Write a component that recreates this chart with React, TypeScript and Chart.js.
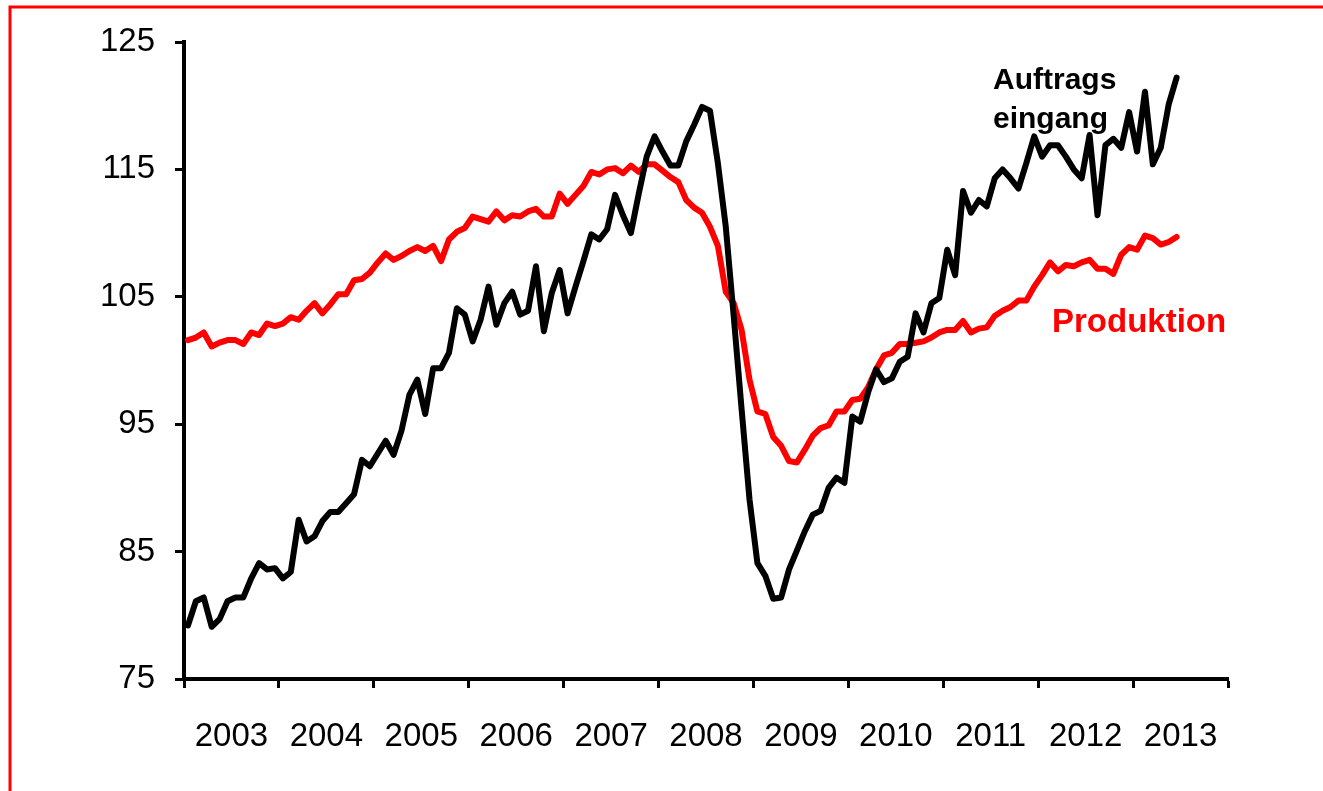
import React, { useEffect, useRef } from 'react';
import { Chart, registerables } from 'chart.js';

Chart.register(...registerables);

// Year labels (category intervals along x; each year = 12 months)
const years = ['2003', '2004', '2005', '2006', '2007', '2008', '2009', '2010', '2011', '2012', '2013'];

// y-axis tick values
const yTicks = [75, 85, 95, 105, 115, 125];

// Monthly values, Jan 2003 .. Jun 2013
const auftragseingang = [
  79.2, 81.1, 81.4, 79.1, 79.7, 81.1, 81.4, 81.4, 82.9, 84.1,
  83.6, 83.7, 82.9, 83.4, 87.5, 85.8, 86.2, 87.4, 88.1, 88.1,
  88.8, 89.5, 92.2, 91.7, 92.7, 93.7, 92.6, 94.5, 97.3, 98.5,
  95.8, 99.4, 99.4, 100.6, 104.1, 103.6, 101.5, 103.2, 105.8, 102.8,
  104.5, 105.4, 103.6, 103.9, 107.4, 102.3, 105.3, 107.1, 103.7, 105.8,
  107.8, 109.9, 109.5, 110.3, 113.0, 111.4, 110.0, 113.1, 116.0, 117.6,
  116.4, 115.3, 115.3, 117.2, 118.5, 119.9, 119.6, 115.5, 110.5, 103.5,
  96.2, 89.1, 84.1, 83.1, 81.3, 81.4, 83.6, 85.1, 86.6, 87.9,
  88.2, 90.0, 90.8, 90.4, 95.6, 95.2, 97.5, 99.3, 98.3, 98.6,
  99.9, 100.3, 103.7, 102.2, 104.5, 104.9, 108.7, 106.7, 113.3, 111.6,
  112.6, 112.1, 114.3, 115.0, 114.3, 113.5, 115.5, 117.6, 116.0, 116.9,
  116.9, 116.0, 115.0, 114.3, 117.7, 111.4, 116.9, 117.4, 116.7, 119.5,
  116.4, 121.1, 115.4, 116.7, 120.1, 122.2,
];

const produktion = [
  101.6, 101.8, 102.2, 101.1, 101.4, 101.6, 101.6, 101.3, 102.2, 102.0,
  102.9, 102.7, 102.9, 103.4, 103.2, 103.9, 104.5, 103.7, 104.4, 105.2,
  105.2, 106.3, 106.4, 106.9, 107.7, 108.4, 107.9, 108.2, 108.6, 108.9,
  108.6, 109.0, 107.8, 109.5, 110.1, 110.4, 111.3, 111.1, 110.9, 111.7,
  111.0, 111.4, 111.3, 111.7, 111.9, 111.3, 111.3, 113.1, 112.3, 113.0,
  113.7, 114.8, 114.6, 115.0, 115.1, 114.7, 115.3, 114.8, 115.4, 115.4,
  114.9, 114.4, 114.0, 112.6, 112.0, 111.6, 110.5, 109.0, 105.4, 104.5,
  102.4, 98.5, 96.0, 95.8, 94.0, 93.3, 92.1, 92.0, 93.0, 94.1,
  94.7, 94.9, 96.0, 96.0, 96.9, 97.0, 97.9, 99.3, 100.4, 100.6,
  101.3, 101.3, 101.4, 101.5, 101.8, 102.2, 102.4, 102.4, 103.1, 102.2,
  102.5, 102.6, 103.5, 103.9, 104.2, 104.7, 104.7, 105.8, 106.7, 107.7,
  107.0, 107.5, 107.4, 107.7, 107.9, 107.2, 107.2, 106.8, 108.3, 108.9,
  108.7, 109.8, 109.6, 109.1, 109.3, 109.7,
];

const W = 1323;
const H = 791;
const FONT = '"Liberation Sans", Arial, sans-serif';

export default function App() {
  const ref = useRef<HTMLCanvasElement>(null);

  useEffect(() => {
    document.body.style.margin = '0';
    document.body.style.overflow = 'hidden';
    const canvas = ref.current;
    if (!canvas) return;

    const framePlugin = {
      id: 'frame',
      beforeDraw(chart: any) {
        const ctx = chart.ctx;
        ctx.save();
        ctx.fillStyle = '#ffffff';
        ctx.fillRect(0, 0, W, H);
        ctx.strokeStyle = '#ff0000';
        ctx.lineWidth = 3;
        ctx.beginPath();
        ctx.moveTo(10, H + 5);
        ctx.lineTo(10, 7);
        ctx.lineTo(W + 5, 7);
        ctx.stroke();
        ctx.restore();
      },
    };

    const labelPlugin = {
      id: 'seriesLabels',
      afterDatasetsDraw(chart: any) {
        const ctx = chart.ctx;
        ctx.save();
        ctx.textAlign = 'left';
        ctx.textBaseline = 'alphabetic';
        ctx.fillStyle = '#000000';
        ctx.font = `bold 30px ${FONT}`;
        ctx.fillText('Auftrags', 993, 89);
        ctx.fillText('eingang', 993, 128);
        ctx.fillStyle = '#ff0000';
        ctx.font = `bold 33px ${FONT}`;
        ctx.fillText('Produktion', 1052, 332);
        ctx.restore();
      },
    };

    const chart = new Chart(canvas, {
      type: 'line',
      data: {
        datasets: [
          {
            label: 'Auftragseingang',
            data: auftragseingang.map((v, i) => ({ x: i + 0.5, y: v })),
            borderColor: '#000000',
            borderWidth: 6,
            pointRadius: 0,
            tension: 0,
            borderJoinStyle: 'round',
            borderCapStyle: 'round',
            order: 0,
          },
          {
            label: 'Produktion',
            data: produktion.map((v, i) => ({ x: i + 0.5, y: v })),
            borderColor: '#ff0000',
            borderWidth: 6,
            pointRadius: 0,
            tension: 0,
            borderJoinStyle: 'round',
            borderCapStyle: 'round',
            order: 1,
          },
        ],
      },
      options: {
        responsive: false,
        animation: false,
        events: [],
        layout: { padding: { left: 0, top: 42, right: 95, bottom: 0 } },
        plugins: {
          legend: { display: false },
          tooltip: { enabled: false },
        },
        scales: {
          x: {
            type: 'linear',
            min: 0,
            max: years.length * 12,
            afterBuildTicks: (s: any) => {
              const t: any[] = [];
              for (let k = 0; k <= years.length * 2; k++) t.push({ value: k * 6 });
              s.ticks = t;
            },
            afterFit: (s: any) => {
              s.height = H - 679;
            },
            border: { color: '#000000', width: 4 },
            grid: {
              drawOnChartArea: false,
              drawTicks: true,
              tickLength: 9,
              tickWidth: 3,
              tickColor: (c: any) =>
                c.tick && c.tick.value % 12 === 0 ? '#000000' : 'rgba(0,0,0,0)',
            },
            ticks: {
              autoSkip: false,
              maxRotation: 0,
              minRotation: 0,
              padding: 29,
              color: '#000000',
              font: { family: FONT, size: 33 },
              callback: (v: any) => {
                const n = Number(v);
                return n % 12 === 6 ? years[(n - 6) / 12] : '';
              },
            },
          },
          y: {
            min: 75,
            max: 125,
            afterBuildTicks: (s: any) => {
              s.ticks = yTicks.map((v) => ({ value: v }));
            },
            afterFit: (s: any) => {
              s.width = 184;
            },
            border: { color: '#000000', width: 4 },
            grid: {
              drawOnChartArea: false,
              drawTicks: true,
              tickLength: 9,
              tickWidth: 3,
              tickColor: '#000000',
            },
            ticks: {
              padding: 20,
              color: '#000000',
              font: { family: FONT, size: 33 },
            },
          },
        },
      } as any,
      plugins: [framePlugin, labelPlugin],
    });

    return () => {
      chart.destroy();
    };
  }, []);

  return (
    <canvas
      ref={ref}
      width={W}
      height={H}
      style={{ position: 'fixed', left: 0, top: 0, display: 'block', width: W, height: H }}
    />
  );
}
